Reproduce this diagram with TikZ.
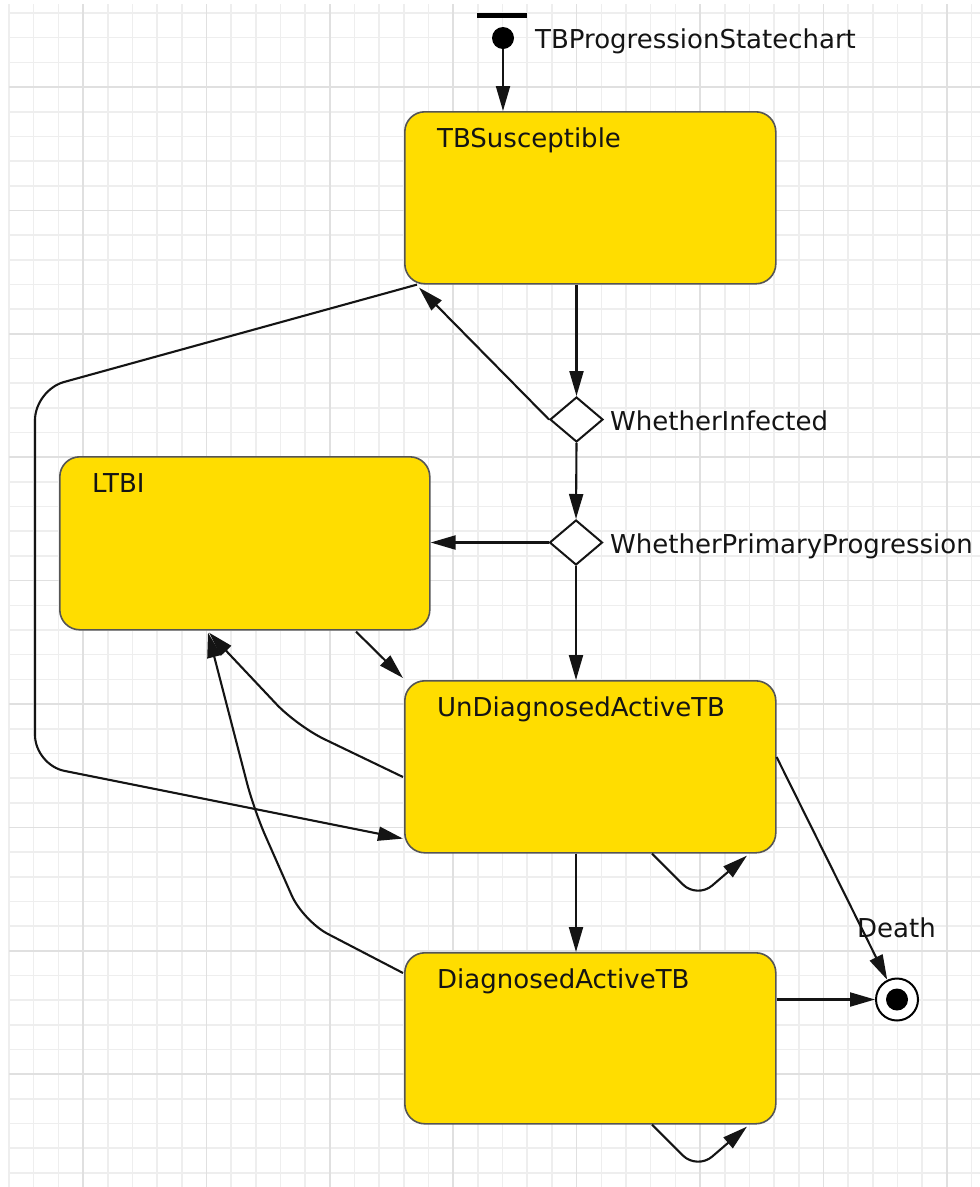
\documentclass[tikz,border=0pt]{standalone}
\usepackage{fontspec}
\setmainfont{DejaVu Sans}
\usetikzlibrary{arrows.meta,shapes.geometric,calc}

\definecolor{stateyellow}{RGB}{255,221,0}
\definecolor{gridminor}{RGB}{238,238,238}
\definecolor{gridmajor}{RGB}{224,224,224}
\definecolor{stateedge}{RGB}{85,85,85}
\definecolor{ink}{RGB}{20,20,20}

\begin{document}
\begin{tikzpicture}[x=1pt,y=-1pt,
  statebox/.style={rectangle, draw=stateedge, line width=1.6pt, fill=stateyellow,
    rounded corners=20pt, minimum width=371pt, minimum height=172pt,
    anchor=north west, inner sep=0pt},
  choice/.style={diamond, draw=ink, line width=2pt, fill=white,
    minimum width=53pt, minimum height=45pt, inner sep=0pt},
  txt/.style={anchor=base west, inner sep=0pt, text=ink,
    font=\fontsize{26}{30}\selectfont},
  tr/.style={draw=ink, line width=2.1pt, -{Triangle[length=25pt,width=14pt]}},
]
\useasboundingbox (0,0) rectangle (980,1187);
\fill[white] (0,0) rectangle (980,1187);

% background grid: minor cells, every fifth line darker
\foreach \k in {0,...,39}
  \draw[gridminor, line width=1.6pt] ({9+\k*24.68},4) -- ({9+\k*24.68},1187);
\foreach \k in {0,...,47}
  \draw[gridminor, line width=1.6pt] (9,{13+\k*24.68}) -- (980,{13+\k*24.68});
\foreach \k in {0,...,7}
  \draw[gridmajor, line width=1.6pt] ({83.04+\k*123.4},4) -- ({83.04+\k*123.4},1187);
\foreach \k in {0,...,8}
  \draw[gridmajor, line width=1.6pt] (9,{87.04+\k*123.4}) -- (980,{87.04+\k*123.4});

% states
\node[statebox] (sus)  at (404,111) {};
\node[statebox, minimum width=370pt, minimum height=173pt] (ltbi) at (59,456) {};
\node[statebox] (und)  at (404,680) {};
\node[statebox, minimum height=171pt] (dia)  at (404,952) {};

\node[txt] (susT)  at ($(sus.north west)+(33,36)$)  {TBSusceptible};
\node[txt] (ltbiT) at ($(ltbi.north west)+(33,36)$) {LTBI};
\node[txt] (undT)  at ($(und.north west)+(33,36)$)  {UnDiagnosedActiveTB};
\node[txt] (diaT)  at ($(dia.north west)+(33,36)$)  {DiagnosedActiveTB};

% branches
\node[choice] (wi)  at (576.5,419.5) {};
\node[choice] (wpp) at (576,542.5) {};
\node[txt] (wiT)  at (610,430) {WhetherInfected};
\node[txt] (wppT) at (610,553) {WhetherPrimaryProgression};

% initial pseudo-state
\node[rectangle, fill=black, minimum width=50pt, minimum height=5pt, inner sep=0pt] (bar) at (502,15.5) {};
\node[circle, fill=black, minimum size=22pt, inner sep=0pt] (init) at (503,38) {};
\node[txt] (chartT) at (535,48) {TBProgressionStatechart};

% final state
\node[circle, draw=black, line width=2pt, fill=white, minimum size=42pt, inner sep=0pt,
  path picture={\fill[black] (path picture bounding box.center) circle (11pt);}] (fin) at (897,999.5) {};

% transitions
\draw[tr] (init.south) -- (init.south |- sus.north);
\draw[tr] (sus.south -| wi.north) -- (wi.north);
\draw[tr] (wi.west) -- ($(sus.south west)+(15,3)$);
\draw[tr] (wi.south) -- (wpp.north);
\draw[tr] (wpp.west) -- (wpp.west -| ltbi.east);
\draw[tr] (wpp.south) -- (wpp.south |- und.north);
\draw[tr] ($(ltbi.south west)+(297,1)$) -- ($(und.north west)+(-1,-2)$);
\draw[tr, rounded corners=30pt] ($(sus.south west)+(13,0)$) -- (35,390) -- (35,765)
  -- ($(und.south west)+(-1,-15)$);
\draw[tr, rounded corners=30pt] ($(und.north west)+(-1,97)$) -- (297,726)
  -- ($(ltbi.south west)+(150,2)$);
\draw[tr, rounded corners=28pt] ($(dia.north west)+(-1,21)$) -- (303,921) -- (254,810)
  -- ($(ltbi.south west)+(149,2)$);
\draw[tr] (wpp.south |- und.south) -- (wpp.south |- dia.north);
\draw[tr, rounded corners=20pt] ($(und.south west)+(248,0)$) -- ($(und.south west)+(293,45)$)
  -- ($(und.south west)+(343,2)$);
\draw[tr, rounded corners=20pt] ($(dia.south west)+(248,0)$) -- ($(dia.south west)+(293,45)$)
  -- ($(dia.south west)+(343,2)$);
\draw[tr] ($(und.north east)+(0,77)$) -- (fin);
\node[txt] (deathT) at (857,937) {Death};
\draw[tr] (dia.east |- fin) -- (fin);
\end{tikzpicture}
\end{document}
